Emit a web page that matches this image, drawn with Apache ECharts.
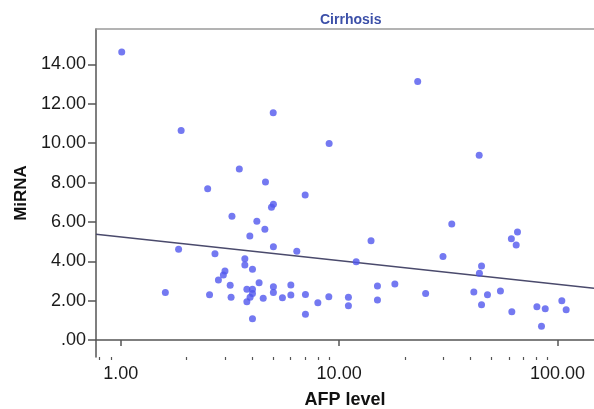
<!DOCTYPE html>
<html>
<head>
<meta charset="utf-8">
<script src="https://cdn.jsdelivr.net/npm/echarts@6/dist/echarts.min.js"></script>
<style>
html,body{margin:0;padding:0;background:#fff;}
#chart{width:594px;height:409px;}
</style>
</head>
<body>
<div id="chart"></div>
<script>
// AFP level (x, log scale) and MiRNA (y) for each patient
const afp = [1.01,1.89,4.99,22.9,9.0,43.8,32.8,14.0,65.6,61.5,64.7,29.9,11.97,3.49,2.50,4.60,6.99,5.00,4.90,3.23,4.20,4.57,3.90,5.00,6.40,2.70,3.70,1.84,3.70,4.01,3.00,2.95,2.80,3.17,1.60,2.55,3.20,3.78,4.01,4.01,3.91,3.78,4.01,4.30,4.49,5.00,5.00,5.50,6.01,6.01,7.01,7.01,7.99,8.97,11.03,11.03,14.98,14.98,18.0,24.9,41.4,44.9,43.9,47.8,44.9,54.8,61.8,80.5,87.9,84.5,104.7,109.6];
const mirna = [14.63,10.64,11.54,13.13,9.98,9.39,5.90,5.05,5.49,5.15,4.83,4.25,3.98,8.69,7.68,8.03,7.37,6.90,6.75,6.29,6.03,5.63,5.29,4.74,4.51,4.39,4.13,4.61,3.81,3.60,3.51,3.30,3.05,2.79,2.41,2.30,2.18,2.58,2.58,2.37,2.17,1.95,1.08,2.91,2.12,2.71,2.41,2.15,2.80,2.29,2.32,1.31,1.90,2.20,2.17,1.74,2.75,2.03,2.85,2.37,2.44,3.76,3.39,2.30,1.80,2.49,1.44,1.69,1.59,0.70,2.00,1.54];
// fit line endpoints
const fitX = [0.77, 147];
const fitY = [5.37, 2.63];
// tick labels
const xMajor = [1, 10, 100];
const xMinor = [0.8, 0.9, 2, 3, 4, 5, 6, 7, 8, 9, 20, 30, 40, 50, 60, 70, 80, 90];
const yTicks = [0, 2, 4, 6, 8, 10, 12, 14];

const X_MIN = 0.77, X_MAX = 147, Y_MIN = -0.86, Y_MAX = 15.8;

const chart = echarts.init(document.getElementById('chart'), null, {renderer: 'canvas'});
const font = '"Liberation Sans", Arial, sans-serif';
const fmt2 = v => { const s = Number(v).toFixed(2); return s.startsWith('0.') ? s.slice(1) : s; };

chart.setOption({
  animation: false,
  backgroundColor: '#fff',
  title: {
    text: 'Cirrhosis',
    left: 315, top: 8,
    textStyle: {color: '#3b4fa8', fontSize: 14, fontWeight: 'bold', fontFamily: font}
  },
  grid: {left: 96, top: 29, right: 0, bottom: 52, containLabel: false, outerBoundsMode: 'none'},
  xAxis: [{
    type: 'log', logBase: 10, min: X_MIN, max: X_MAX, position: 'bottom',
    name: 'AFP level', nameLocation: 'middle', nameGap: 34,
    nameTextStyle: {fontFamily: font, fontWeight: 'bold', fontSize: 18, color: '#111'},
    axisLine: {show: true, lineStyle: {color: '#555', width: 1.5}},
    axisTick: {show: true, length: 6, inside: false, customValues: xMajor, lineStyle: {color: '#555', width: 1.5}},
    axisLabel: {customValues: xMajor, formatter: fmt2, fontFamily: font, fontSize: 18, color: '#1a1a1a', margin: 8},
    splitLine: {show: false}
  }, {
    type: 'log', logBase: 10, min: X_MIN, max: X_MAX, position: 'bottom',
    axisLine: {show: false},
    axisTick: {show: true, length: 3, customValues: xMinor, lineStyle: {color: '#555', width: 1.2}},
    axisLabel: {show: false},
    splitLine: {show: false}
  }, {
    type: 'log', logBase: 10, min: X_MIN, max: X_MAX, position: 'top',
    axisLine: {show: true, lineStyle: {color: '#9a9a9a', width: 1.5}},
    axisTick: {show: false}, axisLabel: {show: false}, splitLine: {show: false}
  }],
  yAxis: {
    type: 'value', min: Y_MIN, max: Y_MAX,
    name: 'MiRNA', nameLocation: 'middle', nameGap: 66, nameRotate: 90,
    nameTextStyle: {fontFamily: font, fontWeight: 'bold', fontSize: 17, color: '#111'},
    axisLine: {show: true, lineStyle: {color: '#555', width: 1.5}},
    axisTick: {show: true, length: 8, customValues: yTicks, lineStyle: {color: '#555', width: 1.5}},
    axisLabel: {customValues: yTicks, formatter: fmt2, fontFamily: font, fontSize: 18, color: '#1a1a1a', margin: 10},
    splitLine: {show: false}
  },
  series: [{
    type: 'scatter',
    data: afp.map((x, i) => [x, mirna[i]]),
    symbol: 'circle', symbolSize: 7,
    itemStyle: {color: '#5158ee'},
    z: 3
  }, {
    type: 'line',
    data: fitX.map((x, i) => [x, fitY[i]]),
    symbol: 'none',
    lineStyle: {color: '#4a4a6c', width: 1.5},
    z: 2
  }]
});
</script>
</body>
</html>
